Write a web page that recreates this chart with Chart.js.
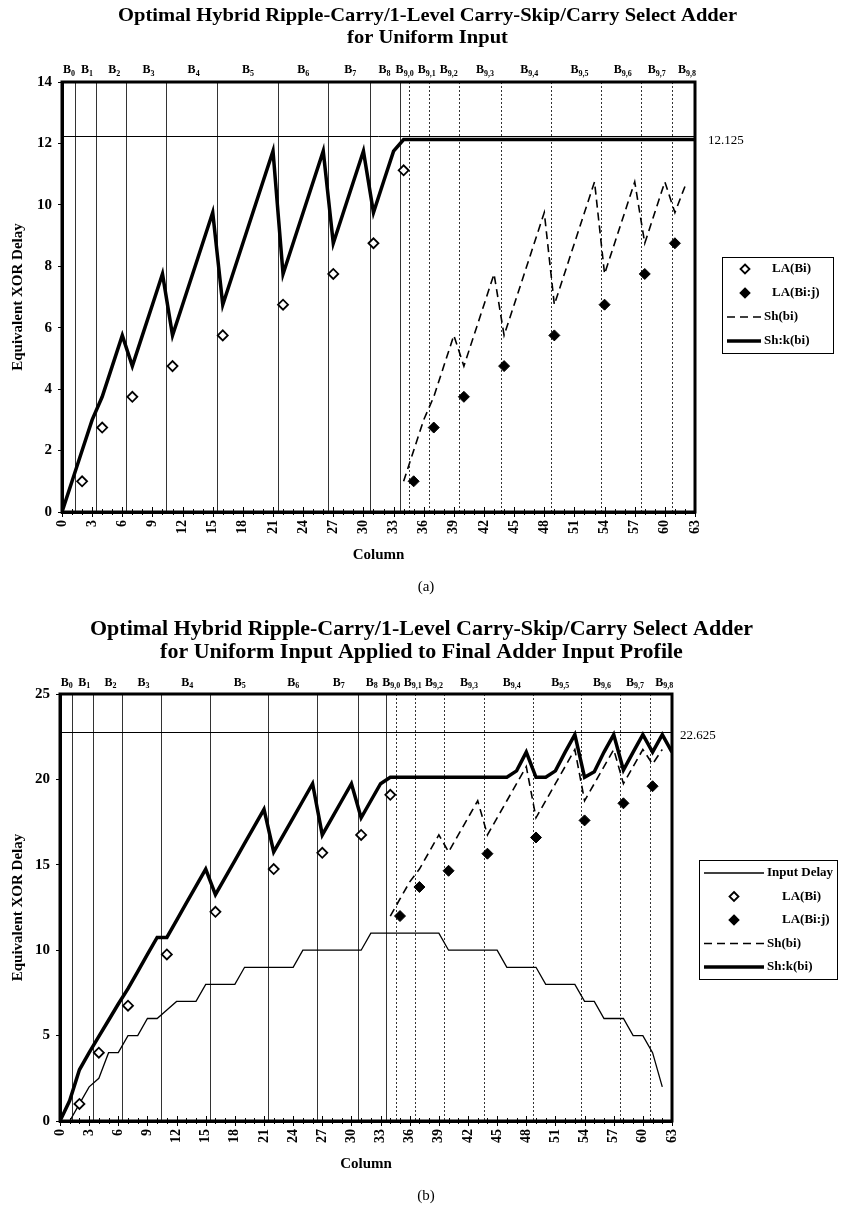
<!DOCTYPE html>
<html>
<head>
<meta charset="utf-8">
<title>Optimal Hybrid Ripple-Carry/1-Level Carry-Skip/Carry Select Adder</title>
<script src="https://cdn.jsdelivr.net/npm/chart.js@4.4.1/dist/chart.umd.min.js"></script>
<style>
  html, body { margin: 0; padding: 0; background: #fff; }
  #wrap { position: relative; width: 849px; height: 1209px; }
  canvas { position: absolute; left: 0; }
  #chartA { top: 0; width: 849px; height: 610px; }
  #chartB { top: 610px; width: 849px; height: 599px; }
</style>
</head>
<body>
<div id="wrap">
  <canvas id="chartA" width="849" height="610"></canvas>
  <canvas id="chartB" width="849" height="599"></canvas>
</div>
<script>
// ---- data ----
const columns = Array.from({ length: 64 }, (_, i) => i);   // bit columns 0..63
const shCols = columns.slice(34, 63);                       // 34..62 (block 9 region)
const laCols = [2, 4, 7, 11, 16, 22, 27, 31, 34];
const laJCols = [35, 37, 40, 44, 49, 54, 58, 61];

// block boundaries (column units) and block labels
const solidBounds = [1.25, 3.35, 6.4, 10.4, 15.4, 21.45, 26.45, 30.65, 33.6];
const dottedBounds = [34.55, 36.55, 39.5, 43.65, 48.65, 53.6, 57.6, 60.7];
const blockSubs = ['0', '1', '2', '3', '4', '5', '6', '7', '8',
  '9,0', '9,1', '9,2', '9,3', '9,4', '9,5', '9,6', '9,7', '9,8'];
const blockLabelCols = [0.7, 2.5, 5.2, 8.6, 13.1, 18.5, 24, 28.7, 32.1,
  34.1, 36.3, 38.5, 42.1, 46.5, 51.5, 55.8, 59.2, 62.2];

const xTicks = [0, 3, 6, 9, 12, 15, 18, 21, 24, 27, 30, 33, 36, 39, 42, 45, 48, 51, 54, 57, 60, 63];

// (a) uniform input
const topShk = [0, 1, 2, 3, 3.75, 4.75, 5.75, 4.75, 5.75, 6.75, 7.75,
  5.75, 6.75, 7.75, 8.75, 9.75, 6.75, 7.75, 8.75, 9.75, 10.75, 11.75,
  7.75, 8.75, 9.75, 10.75, 11.75, 8.75, 9.75, 10.75, 11.75, 9.75, 10.75, 11.75,
  12.125, 12.125, 12.125, 12.125, 12.125, 12.125, 12.125, 12.125, 12.125, 12.125,
  12.125, 12.125, 12.125, 12.125, 12.125, 12.125, 12.125, 12.125, 12.125, 12.125,
  12.125, 12.125, 12.125, 12.125, 12.125, 12.125, 12.125, 12.125, 12.125, 12.125];
const topSh = [1, 2, 3, 3.75, 4.75, 5.75, 4.75, 5.75, 6.75, 7.75,
  5.75, 6.75, 7.75, 8.75, 9.75, 6.75, 7.75, 8.75, 9.75, 10.75,
  7.75, 8.75, 9.75, 10.75, 8.75, 9.75, 10.75, 9.75, 10.6];
const topLA = [1, 2.75, 3.75, 4.75, 5.75, 6.75, 7.75, 8.75, 11.125];
const topLAJ = [1, 2.75, 3.75, 4.75, 5.75, 6.75, 7.75, 8.75];
const topMax = 12.125;
const topRefLine = 12.25;

// (b) applied to final adder input profile
const botInput = [0, 0, 1, 2, 2.5, 4, 4, 5, 5, 6, 6, 6.5, 7, 7, 7, 8, 8, 8, 8,
  9, 9, 9, 9, 9, 9, 10, 10, 10, 10, 10, 10, 10, 11, 11, 11, 11, 11, 11, 11, 11,
  10, 10, 10, 10, 10, 10, 9, 9, 9, 9, 8, 8, 8, 8, 7, 7, 6, 6, 6, 5, 5, 4, 2];
const botShk = [0, 1.2, 3, 4, 4.95, 5.9, 6.85, 7.75, 8.75, 9.75, 10.75,
  10.75, 11.75, 12.75, 13.75, 14.75, 13.25, 14.25, 15.25, 16.25, 17.25, 18.25,
  15.75, 16.75, 17.75, 18.75, 19.75, 16.75, 17.75, 18.75, 19.75, 17.75, 18.75, 19.75,
  20.125, 20.125, 20.125, 20.125, 20.125, 20.125, 20.125, 20.125, 20.125, 20.125,
  20.125, 20.125, 20.125, 20.5, 21.6, 20.125, 20.125, 20.5, 21.6, 22.625,
  20.125, 20.45, 21.6, 22.625, 20.55, 21.6, 22.625, 21.6, 22.625, 21.6];
const botSh = [12, 13, 14, 14.75, 15.75, 16.75, 15.75, 16.75, 17.75, 18.75,
  16.75, 17.75, 18.75, 19.75, 20.75, 17.75, 18.75, 19.75, 20.75, 21.75,
  18.75, 19.75, 20.75, 21.75, 19.75, 20.75, 21.75, 20.9, 21.75];
const botLA = [1, 4, 6.75, 9.75, 12.25, 14.75, 15.7, 16.75, 19.1];
const botLAJ = [12, 13.7, 14.65, 15.65, 16.6, 17.6, 18.6, 19.6];
const botMax = 22.625;
const botRefLine = 22.75;

// ---- helpers ----
const SERIF = '"Liberation Serif", "Times New Roman", serif';

function pts(cols, vals) {
  return vals.map((v, i) => ({ x: cols[i], y: v }));
}

function diamond(ctx, x, y, r, fill) {
  ctx.beginPath();
  ctx.moveTo(x, y - r); ctx.lineTo(x + r, y); ctx.lineTo(x, y + r); ctx.lineTo(x - r, y);
  ctx.closePath();
  ctx.fillStyle = fill ? '#000' : '#fff';
  ctx.fill();
  ctx.lineWidth = 1.8; ctx.strokeStyle = '#000';
  ctx.stroke();
}

function seg(ctx, x0, y0, x1, y1) {
  ctx.beginPath(); ctx.moveTo(x0, y0); ctx.lineTo(x1, y1); ctx.stroke();
}

// block lines, reference line, frame, block labels, titles, legend
const decor = {
  id: 'decor',
  beforeDatasetsDraw(chart, args, o) {
    const { ctx, chartArea: a, scales: { x, y } } = chart;
    ctx.save();
    ctx.strokeStyle = '#333';
    ctx.lineWidth = 1;
    solidBounds.forEach(c => {
      const px = Math.round(x.getPixelForValue(c)) + 0.5;
      seg(ctx, px, a.top, px, a.bottom);
    });
    ctx.setLineDash([2, 2]);
    dottedBounds.forEach(c => {
      const px = Math.round(x.getPixelForValue(c)) + 0.5;
      seg(ctx, px, a.top, px, a.bottom);
    });
    ctx.setLineDash([]);
    ctx.strokeStyle = '#000';
    const ry = Math.round(y.getPixelForValue(o.refLine)) + 0.5;
    seg(ctx, a.left, ry, a.right, ry);
    ctx.restore();
  },
  afterDatasetsDraw(chart, args, o) {
    const { ctx, chartArea: a, scales: { x } } = chart;
    ctx.save();
    ctx.strokeStyle = '#000';
    ctx.lineWidth = 1;
    columns.forEach(c => {
      const px = Math.round(x.getPixelForValue(c)) + 0.5;
      const len = c % 3 === 0 ? 5 : 3;
      seg(ctx, px, a.bottom - len, px, a.bottom + len);
    });
    ctx.lineWidth = 3;
    ctx.strokeRect(a.left, a.top, a.right - a.left, a.bottom - a.top);
    ctx.restore();
  },
  afterDraw(chart, args, o) {
    const { ctx, chartArea: a, scales: { x, y } } = chart;
    ctx.save();
    ctx.fillStyle = '#000';

    // title (fitted to the measured width)
    ctx.font = 'bold ' + o.titleSize + 'px ' + SERIF;
    const sx = o.titleWidth / ctx.measureText(o.title[0]).width;
    ctx.textAlign = 'center';
    ctx.textBaseline = 'middle';
    o.title.forEach((t, i) => {
      ctx.save();
      ctx.translate(o.titleX, o.titleY[i]);
      ctx.scale(sx, 1);
      ctx.fillText(t, 0, 0);
      ctx.restore();
    });

    // block labels B with subscripts
    blockSubs.forEach((sub, i) => {
      const cx = x.getPixelForValue(blockLabelCols[i]);
      ctx.font = 'bold 12px ' + SERIF;
      const wB = ctx.measureText('B').width;
      ctx.font = 'bold 8px ' + SERIF;
      const wS = ctx.measureText(sub).width;
      const left = cx - (wB + wS) / 2;
      ctx.textAlign = 'left';
      ctx.font = 'bold 12px ' + SERIF;
      ctx.fillText('B', left, o.labelY);
      ctx.font = 'bold 8px ' + SERIF;
      ctx.fillText(sub, left + wB, o.labelY + 3.5);
    });

    // max value label
    ctx.font = '13px ' + SERIF;
    ctx.textAlign = 'left';
    ctx.fillText(o.maxLabel, o.maxLabelX, y.getPixelForValue(o.maxValue) + 1);

    // caption
    ctx.font = '15px ' + SERIF;
    ctx.textAlign = 'center';
    ctx.fillText(o.caption, 426, o.captionY);

    // legend
    const L = o.legend;
    ctx.lineWidth = 1;
    ctx.strokeStyle = '#000';
    ctx.strokeRect(L.x + 0.5, L.y + 0.5, L.w, L.h);
    L.order.forEach((di, k) => {
      const ds = chart.data.datasets[di];
      const ry = L.rows[k];
      let tx = L.lineText;
      if (ds.showLine === false) {
        diamond(ctx, L.marker, ry, 4.5, ds.pointBackgroundColor === '#000');
        tx = L.markerText;
      } else {
        ctx.save();
        ctx.lineWidth = ds.borderWidth;
        ctx.setLineDash(ds.borderDash || []);
        seg(ctx, L.x0, ry, L.x1, ry);
        ctx.restore();
      }
      ctx.fillStyle = '#000';
      ctx.font = 'bold 13px ' + SERIF;
      ctx.textAlign = 'left';
      ctx.textBaseline = 'middle';
      ctx.fillText(ds.label, tx, ry);
    });
    ctx.restore();
  }
};

function makeDatasets(la, laj, sh, shk, input) {
  const sets = [
    { label: 'LA(Bi)', data: pts(laCols, la), showLine: false, pointStyle: 'rectRot',
      pointRadius: 5, pointBorderWidth: 1.8, pointBackgroundColor: '#fff', pointBorderColor: '#000' },
    { label: 'LA(Bi:j)', data: pts(laJCols, laj), showLine: false, pointStyle: 'rectRot',
      pointRadius: 5.5, pointBorderWidth: 1, pointBackgroundColor: '#000', pointBorderColor: '#000' },
    { label: 'Sh(bi)', data: pts(shCols, sh), borderColor: '#000', borderWidth: 1.6,
      borderDash: [8, 5], pointRadius: 0 },
    { label: 'Sh:k(bi)', data: pts(columns, shk), borderColor: '#000', borderWidth: 3.5,
      borderJoinStyle: 'miter', pointRadius: 0 }
  ];
  if (input) {
    sets.push({ label: 'Input Delay', data: pts(columns, input), borderColor: '#000',
      borderWidth: 1.3, pointRadius: 0 });
  }
  return sets;
}

function makeOptions(d) {
  return {
    responsive: false,
    animation: false,
    devicePixelRatio: 1,
    layout: { padding: d.pad },
    elements: { line: { tension: 0, fill: false } },
    plugins: { legend: { display: false }, tooltip: { enabled: false }, decor: d },
    scales: {
      x: {
        type: 'linear', min: 0, max: 63,
        afterFit(s) { s.height = 52; },
        afterBuildTicks(s) { s.ticks = xTicks.map(v => ({ value: v })); },
        ticks: { autoSkip: false, minRotation: 90, maxRotation: 90, padding: 8, color: '#000',
          font: { family: SERIF, size: 14, weight: 'bold' } },
        grid: { display: true, drawOnChartArea: false, drawTicks: false },
        border: { display: true, color: '#000', width: 3 },
        title: { display: true, text: 'Column', color: '#000', padding: { top: 0, bottom: 0 },
          font: { family: SERIF, size: 15, weight: 'bold' } }
      },
      y: {
        min: 0, max: d.yMax,
        afterFit(s) { s.width = d.yWidth; },
        ticks: { stepSize: d.yStep, padding: 6, color: '#000',
          font: { family: SERIF, size: 15, weight: 'bold' } },
        grid: { display: true, drawOnChartArea: false, tickLength: 4, color: '#000' },
        border: { display: true, color: '#000', width: 3 },
        title: { display: true, text: 'Equivalent XOR Delay', color: '#000', padding: { top: 9, bottom: 0 },
          font: { family: SERIF, size: 15, weight: 'bold' } }
      }
    }
  };
}

new Chart(document.getElementById('chartA'), {
  type: 'line',
  data: { datasets: makeDatasets(topLA, topLAJ, topSh, topShk, null) },
  options: makeOptions({
    pad: { left: 0, right: 154, top: 82, bottom: 46 },
    yWidth: 62, yMax: 14, yStep: 2,
    refLine: topRefLine, maxValue: topMax, maxLabel: '12.125', maxLabelX: 708,
    title: ['Optimal Hybrid Ripple-Carry/1-Level Carry-Skip/Carry Select Adder', 'for Uniform Input'],
    titleSize: 19, titleWidth: 619, titleX: 427.5, titleY: [16, 38],
    labelY: 70, caption: '(a)', captionY: 587,
    legend: { x: 722, y: 257, w: 111, h: 96, rows: [269, 293, 317, 341], order: [0, 1, 2, 3],
      x0: 727, x1: 761, marker: 745, markerText: 772, lineText: 764 }
  }),
  plugins: [decor]
});

new Chart(document.getElementById('chartB'), {
  type: 'line',
  data: { datasets: makeDatasets(botLA, botLAJ, botSh, botShk, botInput) },
  options: makeOptions({
    pad: { left: 0, right: 177, top: 84, bottom: 36 },
    yWidth: 60, yMax: 25, yStep: 5,
    refLine: botRefLine, maxValue: botMax, maxLabel: '22.625', maxLabelX: 680,
    title: ['Optimal Hybrid Ripple-Carry/1-Level Carry-Skip/Carry Select Adder',
      'for Uniform Input Applied to Final Adder Input Profile'],
    titleSize: 20, titleWidth: 663, titleX: 421.5, titleY: [20, 42.5],
    labelY: 72.5, caption: '(b)', captionY: 586,
    legend: { x: 699, y: 250, w: 138, h: 119, rows: [263, 286.5, 310, 333.5, 357], order: [4, 0, 1, 2, 3],
      x0: 704, x1: 764, marker: 734, markerText: 782, lineText: 767 }
  }),
  plugins: [decor]
});
</script>
</body>
</html>
